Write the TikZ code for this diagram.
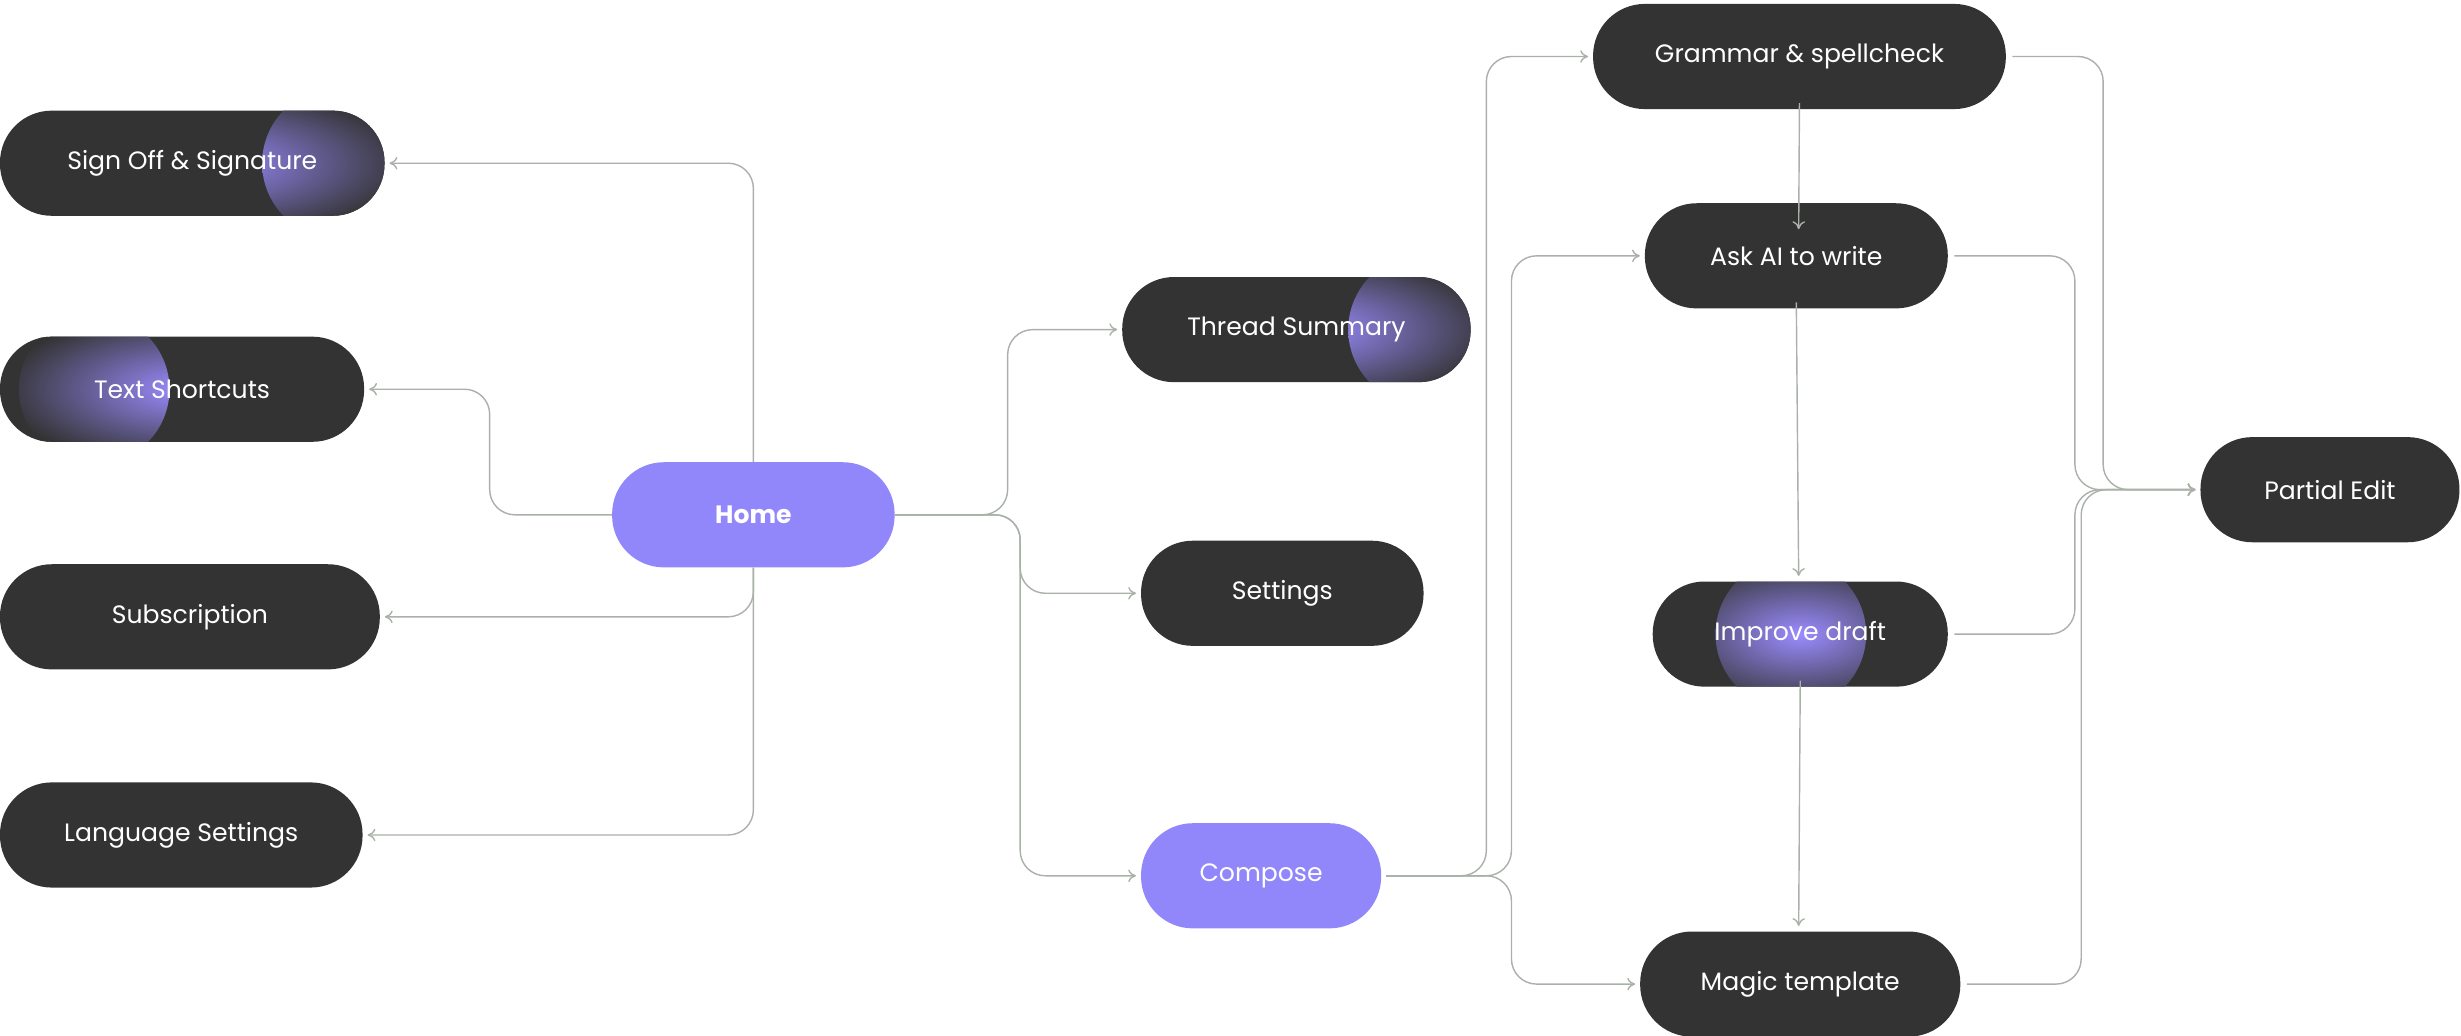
\documentclass[tikz,border=0pt]{standalone}
\usepackage{fontspec}
\setmainfont{Poppins}
\usetikzlibrary{arrows.meta}
\definecolor{dark}{HTML}{333333}
\definecolor{purp}{HTML}{9187FB}
\definecolor{glow}{HTML}{9A8CFF}
\definecolor{ln}{HTML}{A9B1A9}
\begin{document}
\begin{tikzpicture}[x=1pt,y=-1pt,
  box/.style={fill=dark,text=white,rounded corners=33pt,minimum height=67pt,inner sep=0pt,font=\fontsize{16}{18}\selectfont},
  pbox/.style={box,fill=purp},
  con/.style={draw=ln,line width=0.9pt,rounded corners=16pt,-{To[length=5pt,width=8pt]}},
  glowr/.style={path picture={\shade[inner color=glow,outer color=dark] ([xshift=-30pt]path picture bounding box.east) circle (48pt);}},
  glowl/.style={path picture={\shade[inner color=glow,outer color=dark] ([xshift=60pt]path picture bounding box.west) circle (48pt);}}]
\useasboundingbox (0,0) rectangle (1568,660);
\node[box,minimum width=245pt,glowr] (sign) at (122.5,104) {Sign Off \& Signature};
\node[box,minimum width=232pt,glowl] (text) at (116,248) {Text Shortcuts};
\node[box,minimum width=242pt] (sub) at (121,393) {Subscription};
\node[box,minimum width=231pt] (lang) at (115.5,532) {Language Settings};
\node[pbox,minimum width=180pt,font=\fontsize{16}{18}\selectfont\bfseries] (home) at (480,328) {Home};
\node[box,minimum width=222pt,glowr] (thread) at (826,210) {Thread Summary};
\node[box,minimum width=180pt] (set) at (817,378) {Settings};
\node[pbox,minimum width=153pt] (comp) at (803.5,558) {Compose};
\node[box,minimum width=263pt] (gram) at (1146.5,36) {Grammar \& spellcheck};
\node[box,minimum width=193pt] (ask) at (1144.5,163) {Ask AI to write};
\node[box,minimum width=188pt,path picture={\shade[inner color=glow,outer color=dark] ([xshift=-6pt]path picture bounding box.center) circle (48pt);}] (imp) at (1147,404) {Improve draft};
\node[box,minimum width=204pt] (mag) at (1147,627) {Magic template};
\node[box,minimum width=165pt] (part) at (1484.5,312) {Partial Edit};

\draw[con] (home.north) |- ([xshift=3pt]sign.east);
\draw[con] (home.west) -- (312,328) |- ([xshift=3pt]text.east);
\draw[con] (home.south) |- ([xshift=3pt]sub.east);
\draw[con] (home.south) |- ([xshift=3pt]lang.east);
\draw[con] (home.east) -- (642,328) |- ([xshift=-3pt]thread.west);
\draw[con] (home.east) -- (650,328) |- ([xshift=-3pt]set.west);
\draw[con] (home.east) -- (650,328) |- ([xshift=-3pt]comp.west);
\draw[con] ([xshift=3pt]comp.east) -- (947,558) |- ([xshift=-3pt]gram.west);
\draw[con] ([xshift=3pt]comp.east) -- (963,558) |- ([xshift=-3pt]ask.west);
\draw[con] ([xshift=3pt]comp.east) -- (963,558) |- ([xshift=-3pt]mag.west);
\draw[con] ([yshift=4pt]gram.south) -- (1146,146);
\draw[con] ([yshift=4pt]ask.south) -- (1146,367);
\draw[con] ([yshift=4pt]imp.south) -- (1146,590);
\draw[con] ([xshift=4pt]gram.east) -| (1340,312) -- ([xshift=-3pt]part.west);
\draw[con] ([xshift=4pt]ask.east) -| (1322,312) -- ([xshift=-3pt]part.west);
\draw[con] ([xshift=4pt]imp.east) -| (1322,312) -- ([xshift=-3pt]part.west);
\draw[con] ([xshift=4pt]mag.east) -| (1326,312) -- ([xshift=-3pt]part.west);
\end{tikzpicture}
\end{document}
